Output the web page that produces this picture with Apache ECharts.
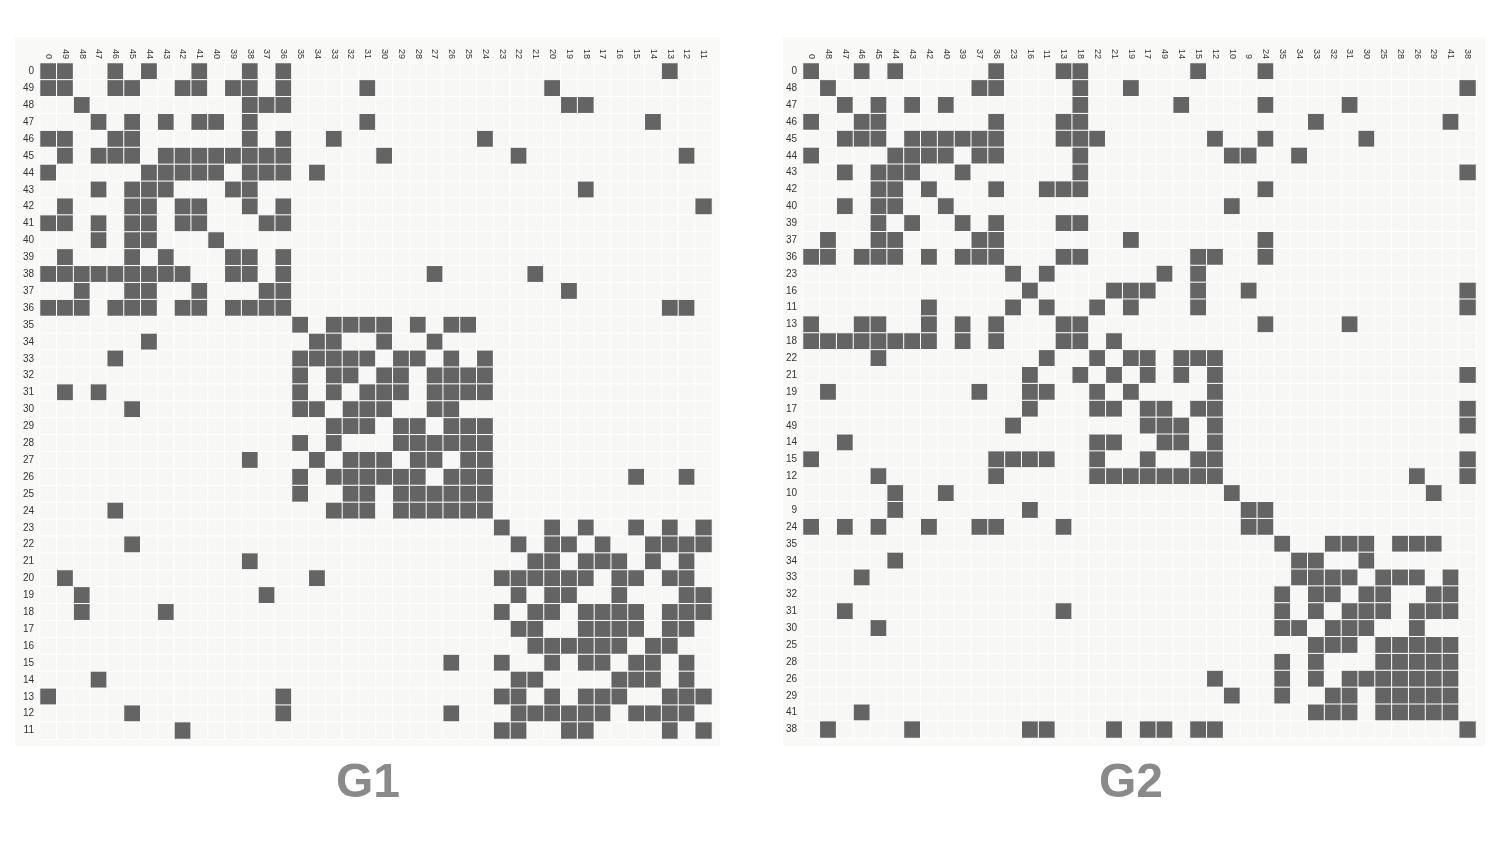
<!DOCTYPE html>
<html><head><meta charset="utf-8">
<script src="https://cdn.jsdelivr.net/npm/echarts@6/dist/echarts.min.js"></script>
<style>html,body{margin:0;padding:0;background:#fff;}#c{width:1500px;height:844px;}</style>
</head><body><div id="c"></div>
<script>
const g1Labels = ['0','49','48','47','46','45','44','43','42','41','40','39','38','37','36','35','34','33','32','31','30','29','28','27','26','25','24','23','22','21','20','19','18','17','16','15','14','13','12','11'];
const g2Labels = ['0','48','47','46','45','44','43','42','40','39','37','36','23','16','11','13','18','22','21','19','17','49','14','15','12','10','9','24','35','34','33','32','31','30','25','28','26','29','41','38'];

// rows in label order; each string = 40 cells (spaces only for readability)
const g1Matrix = [
'1100101001 0010100000 0000000000 0000000100',
'1100110011 0110100001 0000000000 1000000000',
'0010000000 0011100000 0000000000 0110000000',
'0001010101 1010000001 0000000000 0000001000',
'1100110000 0010100100 0000001000 0000000000',
'0101110111 1111100000 1000000010 0000000010',
'1000001111 1011101000 0000000000 0000000000',
'0001011100 0110000000 0000000000 0010000000',
'0100011011 0010100000 0000000000 0000000001',
'1101011011 0001100000 0000000000 0000000000',
'0001011000 1000000000 0000000000 0000000000',
'0100010100 0110100000 0000000000 0000000000',
'1111111110 0110100000 0001000001 0000000000',
'0010011001 0001100000 0000000000 0100000000',
'1110111011 0111100000 0000000000 0000000110',
'0000000000 0000010111 1010110000 0000000000',
'0000001000 0000001100 1001000000 0000000000',
'0000100000 0000011111 0110101000 0000000000',
'0000000000 0000010110 1101111000 0000000000',
'0101000000 0000010101 1101111000 0000000000',
'0000010000 0000011011 1001100000 0000000000',
'0000000000 0000000111 0110111000 0000000000',
'0000000000 0000010100 0111111000 0000000000',
'0000000000 0010001011 1011011000 0000000000',
'0000000000 0000010111 1110111000 0000010010',
'0000000000 0000010011 0111111000 0000000000',
'0000100000 0000000111 0111111000 0000000000',
'0000000000 0000000000 0000000100 1010010101',
'0000010000 0000000000 0000000010 1101001111',
'0000000000 0010000000 0000000001 1011101010',
'0100000000 0000001000 0000000111 1110110110',
'0010000000 0001000000 0000000010 1100100011',
'0010000100 0000000000 0000000101 1011110111',
'0000000000 0000000000 0000000011 0011110110',
'0000000000 0000000000 0000000001 1111101100',
'0000000000 0000000000 0000100100 1011011010',
'0001000000 0000000000 0000000011 0000111010',
'1000000000 0000100000 0000000110 1011100111',
'0000010000 0000100000 0000100011 1111011110',
'0000000010 0000000000 0000000110 0110000101'
];

const g2Matrix = [
'1001010000 0100011000 0001000100 0000000000',
'0100000000 1100001001 0000000000 0000000001',
'0010101010 0000001000 0010000100 0010000000',
'1001100000 0100011000 0000000000 1000000010',
'0011101111 1100011100 0000100100 0001000000',
'1000011110 1100001000 0000011001 0000000000',
'0010111001 0000001000 0000000000 0000000001',
'0000110100 0100111000 0000000100 0000000000',
'0010110010 0000000000 0000010000 0000000000',
'0000101001 0100011000 0000000000 0000000000',
'0100110000 1100000001 0000000100 0000000000',
'1101110101 1100011000 0001100100 0000000000',
'0000000000 0010100000 0101000000 0000000000',
'0000000000 0001000011 1001001000 0000000001',
'0000000100 0010100101 0001000000 0000000001',
'1001100101 0100011000 0000000100 0010000000',
'1111111101 0100011010 0000000000 0000000000',
'0000100000 0000100101 1011100000 0000000000',
'0000000000 0001001010 1010100000 0000000001',
'0100000000 1001100101 0000100000 0000000000',
'0000000000 0001000110 1101100000 0000000001',
'0000000000 0010000000 1110100000 0000000001',
'0010000000 0000000110 0110100000 0000000000',
'1000000000 0111100100 1001100000 0000000001',
'0000100000 0100000111 1111100000 0000001001',
'0000010010 0000000000 0000010000 0000000100',
'0000010000 0001000000 0000001100 0000000000',
'1010100100 1100010000 0000001100 0000000000',
'0000000000 0000000000 0000000010 0111011100',
'0000010000 0000000000 0000000001 1001000000',
'0001000000 0000000000 0000000001 1110111010',
'0000000000 0000000000 0000000010 1101100110',
'0010000000 0000010000 0000000010 1011101110',
'0000100000 0000000000 0000000011 0111001000',
'0000000000 0000000000 0000000000 1110111110',
'0000000000 0000000000 0000000010 1000111110',
'0000000000 0000000000 0000100010 1011111110',
'0000000000 0000000000 0000010010 0110111110',
'0001000000 0000000000 0000000000 1110111110',
'0100001000 0001100010 1101100000 0000000001'
];

const titles = ['G1', 'G2'];

function toData(m) {
  const d = [];
  m.forEach((row, yi) => {
    const s = row.replace(/ /g, '');
    for (let xi = 0; xi < s.length; xi++) d.push([xi, yi, +s[xi]]);
  });
  return d;
}

const grids = [
  {left: 40, top: 63, width: 672, height: 676},
  {left: 803, top: 63, width: 673, height: 675}
];
const labelSets = [g1Labels, g2Labels];
const mats = [g1Matrix, g2Matrix];
const FONT = '"Liberation Sans", Arial, sans-serif';

const chart = echarts.init(document.getElementById('c'), null, {renderer: 'canvas'});
chart.setOption({
  backgroundColor: '#ffffff',
  animation: false,
  graphic: [
    {type: 'rect', z: -10, shape: {x: 15, y: 37, width: 705, height: 709}, style: {fill: '#f9f9f7'}},
    {type: 'rect', z: -10, shape: {x: 783, y: 37, width: 702, height: 709}, style: {fill: '#f9f9f7'}},
    {type: 'text', x: 368, y: 784, style: {text: titles[0], font: 'bold 48px ' + FONT, fill: '#8a8a8a', align: 'center', verticalAlign: 'middle', textAlign: 'center', textVerticalAlign: 'middle'}},
    {type: 'text', x: 1131, y: 784, style: {text: titles[1], font: 'bold 48px ' + FONT, fill: '#8a8a8a', align: 'center', verticalAlign: 'middle', textAlign: 'center', textVerticalAlign: 'middle'}}
  ],
  grid: grids,
  xAxis: labelSets.map((lab, i) => ({
    type: 'category', gridIndex: i, data: lab, position: 'top',
    axisLine: {show: false}, axisTick: {show: false}, splitLine: {show: false},
    axisLabel: {rotate: 90, interval: 0, fontSize: 9, color: '#333', margin: 4, fontFamily: FONT}
  })),
  yAxis: labelSets.map((lab, i) => ({
    type: 'category', gridIndex: i, data: lab, inverse: true,
    axisLine: {show: false}, axisTick: {show: false}, splitLine: {show: false},
    axisLabel: {interval: 0, fontSize: 10, color: '#333', margin: 6, fontFamily: FONT}
  })),
  visualMap: {
    type: 'piecewise', show: false, seriesIndex: [0, 1], dimension: 2,
    pieces: [{value: 0, color: '#f7f7f5'}, {value: 1, color: '#646464'}]
  },
  series: mats.map((m, i) => ({
    type: 'heatmap', xAxisIndex: i, yAxisIndex: i, data: toData(m),
    itemStyle: {borderColor: '#ffffff', borderWidth: 1},
    emphasis: {disabled: true}
  }))
});
</script></body></html>
